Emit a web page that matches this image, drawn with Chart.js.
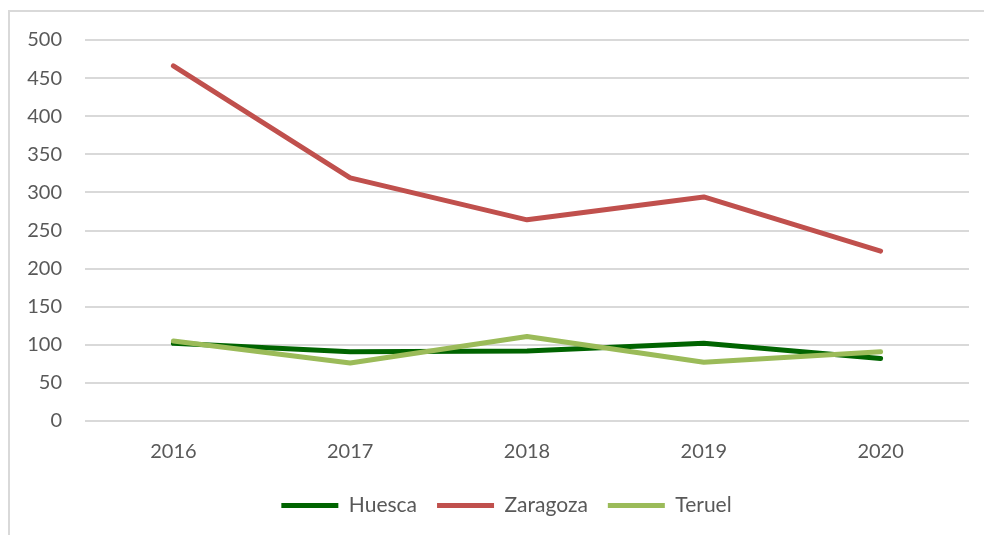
<!DOCTYPE html>
<html>
<head>
<meta charset="utf-8">
<script src="https://cdn.jsdelivr.net/npm/chart.js@4/dist/chart.umd.min.js"></script>
<style>
  html, body { margin: 0; padding: 0; background: #fff; overflow: hidden; }
  #wrap { position: absolute; left: 0; top: 0; width: 984px; height: 535px; }
  #frame { position: absolute; left: 8px; top: 10px; width: 990px; height: 540px;
           border-left: 2px solid #d9d9d9; border-top: 2px solid #d9d9d9; }
</style>
</head>
<body>
<div id="wrap">
  <div id="frame"></div>
  <canvas id="chart"></canvas>
</div>
<script>
// years on the x axis
const years = ['2016', '2017', '2018', '2019', '2020'];

// values per province
const huesca = [102, 91, 92, 102, 82];
const zaragoza = [466, 319, 264, 294, 223];
const teruel = [105, 76, 111, 77, 91];

const yTicks = [0, 50, 100, 150, 200, 250, 300, 350, 400, 450, 500];

const textColor = '#595959';
const gridColor = '#d9d9d9';
const fontFamily = 'Lato, "Open Sans", sans-serif';

function serie(label, data, color, order) {
    return {
        label: label,
        data: data,
        borderColor: color,
        backgroundColor: color,
        borderWidth: 5,
        borderCapStyle: 'round',
        borderJoinStyle: 'round',
        pointRadius: 0,
        pointHoverRadius: 0,
        tension: 0,
        order: order
    };
}

// the legend sits centred on the plot area, not on the whole canvas
const legendShift = {
    id: 'legendShift',
    afterLayout(chart) {
        const lg = chart.legend;
        if (lg) { lg.left += 22; lg.right += 22; }
    }
};

const ctx = document.getElementById('chart').getContext('2d');
const chart = new Chart(ctx, {
    type: 'line',
    data: {
        labels: years,
        datasets: [
            serie('Huesca', huesca, '#006400', 2),
            serie('Zaragoza', zaragoza, '#c0504d', 1),
            serie('Teruel', teruel, '#9bbb59', 0)
        ]
    },
    options: {
        responsive: true,
        maintainAspectRatio: false,
        animation: false,
        layout: { padding: { left: 0, right: 15, top: 40, bottom: 9 } },
        scales: {
            x: {
                offset: true,
                grid: { display: false, drawTicks: false },
                border: { display: false },
                ticks: { color: textColor, font: { family: fontFamily, size: 20 }, padding: 19 },
                afterFit: function(scale) { scale.height = 54; }
            },
            y: {
                min: 0,
                max: 500,
                afterBuildTicks: function(scale) { scale.ticks = yTicks.map(v => ({ value: v })); },
                grid: { color: gridColor, lineWidth: 2, drawTicks: false },
                border: { display: false },
                ticks: { color: textColor, font: { family: fontFamily, size: 20 }, padding: 23 },
                afterFit: function(scale) { scale.width = 85; }
            }
        },
        plugins: {
            tooltip: { enabled: false },
            legend: {
                position: 'bottom',
                labels: {
                    color: textColor,
                    font: { family: fontFamily, size: 21 },
                    usePointStyle: true,
                    pointStyle: 'line',
                    pointStyleWidth: 57,
                    padding: 20,
                    sort: (a, b) => a.datasetIndex - b.datasetIndex
                }
            }
        }
    },
    plugins: [legendShift]
});
</script>
</body>
</html>
